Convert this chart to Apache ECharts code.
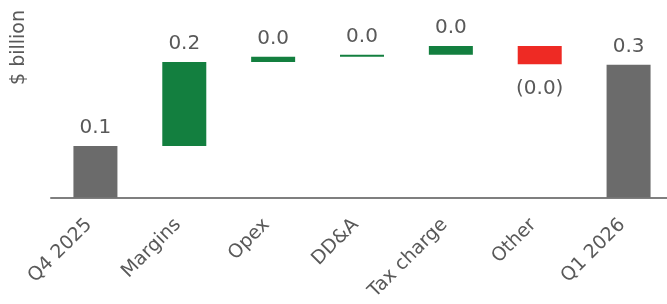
<!DOCTYPE html>
<html>
<head>
<meta charset="utf-8">
<script src="https://cdn.jsdelivr.net/npm/echarts@6/dist/echarts.min.js"></script>
<style>
html,body{margin:0;padding:0;background:#fff;overflow:hidden;}
#c{width:667px;height:304px;}
</style>
</head>
<body>
<div id="c"></div>
<script>
// ---- data ----
var categories = ['Q4 2025', 'Margins', 'Opex', 'DD&A', 'Tax charge', 'Other', 'Q1 2026'];
// bar type: total or change
var kinds = ['total', 'delta', 'delta', 'delta', 'delta', 'delta', 'total'];
var values = [0.100, 0.163, 0.0105, 0.0035, 0.017, -0.0355, 0.258];
var yAxisTitle = '$ billion';

// ---- colours ----
var GRAY = '#6b6b6b', GREEN = '#137f3f', RED = '#ee2a24', TEXT = '#595959';
var FONT = 'DejaVu Sans';

// ---- build waterfall ----
var baseData = [], barData = [];
var running = 0;
for (var i = 0; i < values.length; i++) {
  var v = values[i];
  var label = (v < 0 ? '(' + Math.abs(v).toFixed(1) + ')' : v.toFixed(1));
  if (kinds[i] === 'total') {
    baseData.push(0);
    barData.push({value: v, itemStyle: {color: GRAY},
      label: {show: true, position: 'top', formatter: label}});
    running = v;
  } else {
    var lo = v >= 0 ? running : running + v;
    baseData.push(lo);
    barData.push({value: Math.abs(v), itemStyle: {color: v >= 0 ? GREEN : RED},
      label: {show: true, position: v >= 0 ? 'top' : 'bottom', formatter: label,
              distance: v >= 0 ? 8 : 14}});
    running += v;
  }
}

var chart = echarts.init(document.getElementById('c'), null, {renderer: 'canvas'});
chart.setOption({
  animation: false,
  textStyle: {fontFamily: FONT},
  grid: {left: 51, width: 622, top: 17.25, height: 180.25, outerBoundsMode: 'none', containLabel: false},
  xAxis: {
    type: 'category',
    data: categories,
    axisLine: {show: true, lineStyle: {color: '#7f7f7f', width: 2}},
    axisTick: {show: false},
    axisLabel: {interval: 0, rotate: 45, color: TEXT, fontSize: 19, margin: 18,
                padding: [0, 9, 0, 0], fontFamily: FONT, hideOverlap: false}
  },
  yAxis: {
    type: 'value', min: 0, max: 0.35,
    show: false, splitLine: {show: false}
  },
  graphic: [{
    type: 'text', left: 10, top: 10, rotation: Math.PI / 2,
    style: {text: yAxisTitle, fill: TEXT, font: '19px "' + FONT + '"'}
  }],
  series: [
    {type: 'bar', stack: 'w', data: baseData, barWidth: 44,
      itemStyle: {color: 'transparent'}, silent: true},
    {type: 'bar', stack: 'w', data: barData, barWidth: 44,
      label: {color: TEXT, fontSize: 20, distance: 8, fontFamily: FONT}}
  ]
});
</script>
</body>
</html>
